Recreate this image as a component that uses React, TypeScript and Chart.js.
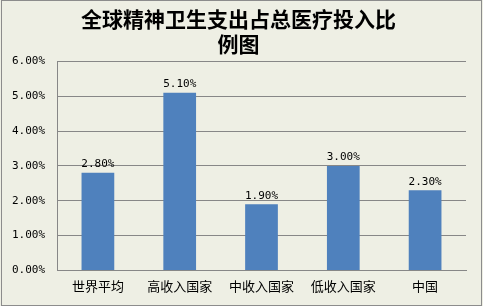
import React, { useEffect, useRef } from "react";
import { Chart, registerables } from "chart.js";

Chart.register(...registerables);

const titleLines = ["全球精神卫生支出占总医疗投入比", "例图"];
const categories = ["世界平均", "高收入国家", "中收入国家", "低收入国家", "中国"];
const values = [2.8, 5.1, 1.9, 3.0, 2.3];
const yTicks = [0, 1, 2, 3, 4, 5, 6];

const BG = "#EEEFE4";
const GRID = "#878787";
const BAR = "#4F81BD";
const MONO = "'DejaVu Sans Mono', 'Liberation Mono', monospace";
const CJK = "'Noto Sans CJK SC', sans-serif";

const valueLabels = {
  id: "valueLabels",
  afterDatasetsDraw(chart: any) {
    const ctx = chart.ctx;
    const meta = chart.getDatasetMeta(0);
    ctx.save();
    ctx.font = `11px ${MONO}`;
    ctx.fillStyle = "#000";
    ctx.textAlign = "center";
    ctx.textBaseline = "bottom";
    meta.data.forEach((el: any, i: number) => {
      const v = chart.data.datasets[0].data[i] as number;
      ctx.fillText(v.toFixed(2) + "%", el.x, el.y - 3);
    });
    ctx.restore();
  },
};

export default function App() {
  const ref = useRef<HTMLCanvasElement | null>(null);
  useEffect(() => {
    if (!ref.current) return;
    const chart = new Chart(ref.current, {
      type: "bar",
      data: {
        labels: categories,
        datasets: [
          {
            data: values,
            backgroundColor: BAR,
            borderWidth: 0,
            barPercentage: 0.4,
            categoryPercentage: 1,
          },
        ],
      },
      options: {
        animation: false,
        responsive: false,
        maintainAspectRatio: false,
        events: [],
        layout: { padding: { left: 11, right: 17, bottom: 4, top: 0 } },
        plugins: {
          legend: { display: false },
          tooltip: { enabled: false },
          title: {
            display: true,
            text: titleLines,
            color: "#000",
            font: { family: CJK, size: 21, weight: "bold", lineHeight: 1.2 },
            padding: { top: 6, bottom: 5 },
          },
        },
        scales: {
          x: {
            grid: { display: false, drawTicks: false },
            border: { display: true, color: GRID, width: 1 },
            ticks: {
              color: "#000",
              font: { family: CJK, size: 13 },
              padding: 8,
              maxRotation: 0,
            },
          },
          y: {
            min: yTicks[0],
            max: yTicks[yTicks.length - 1],
            afterBuildTicks: (axis: any) => {
              axis.ticks = yTicks.map((v) => ({ value: v }));
            },
            afterFit: (axis: any) => {
              axis.width = 46;
            },
            grid: { color: GRID, drawTicks: false, lineWidth: 1 },
            border: { display: true, color: GRID, width: 1 },
            ticks: {
              color: "#000",
              font: { family: MONO, size: 11 },
              padding: 12,
              callback: (v: any) => Number(v).toFixed(2) + "%",
            },
          },
        },
      },
      plugins: [valueLabels],
    });
    return () => chart.destroy();
  }, []);
  return (
    <div
      style={{
        position: "absolute",
        left: 0,
        top: 0,
        width: 483,
        height: 306,
        background: BG,
      }}
    >
      <canvas ref={ref} width={483} height={306} style={{ display: "block" }} />
      <div
        style={{
          position: "absolute",
          left: 1,
          top: 0,
          width: 481,
          height: 306,
          boxSizing: "border-box",
          border: "1px solid #8c8c8c",
          pointerEvents: "none",
        }}
      />
    </div>
  );
}
